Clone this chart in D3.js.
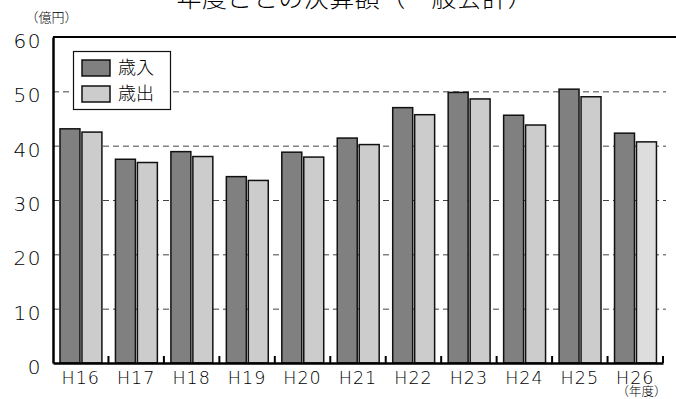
<!DOCTYPE html>
<html><head><meta charset="utf-8">
<script src="https://cdn.jsdelivr.net/npm/d3@7"></script>
<style>
html,body{margin:0;padding:0;background:#fff;}
svg{display:block;font-family:"Noto Sans CJK JP","Noto Sans",sans-serif;}
</style></head>
<body>
<svg id="c" width="676" height="399"></svg>
<script>
const categories = ["H16","H17","H18","H19","H20","H21","H22","H23","H24","H25","H26"];
const revenue = [43.1,37.5,38.9,34.3,38.8,41.4,47.0,49.8,45.6,50.4,42.3];
const expenditure = [42.5,36.9,38.0,33.6,37.9,40.2,45.7,48.6,43.8,49.0,40.7];
const seriesNames = ["歳入","歳出"];
const yTicks = [0,10,20,30,40,50,60];
const title = "年度ごとの決算額（一般会計）";
const yUnit = "（億円）";
const xUnit = "（年度）";

const svg = d3.select("#c");
const pL = 53, pR = 663, pT = 37, pB = 363;
const x = d3.scaleBand().domain(categories).range([pL, pR]).paddingInner(0).paddingOuter(0);
const y = d3.scaleLinear().domain([0,60]).range([pB, pT]);
const bw = x.bandwidth();
const barW = bw*0.36, gap = bw*0.036, offs = bw*0.126;
const colors = ["#808080","#cccccc"];

// title
svg.append("text").attr("x", 355).attr("y", 7).attr("text-anchor","middle")
  .attr("font-size", 25).attr("font-weight",300).attr("fill","#000")
  .attr("letter-spacing", 0.5).text(title);

// gridlines
svg.append("g").selectAll("line").data(yTicks.filter(d=>d>0 && d<60)).join("line")
  .attr("x1", pL).attr("x2", 666).attr("y1", d=>y(d)+0.5).attr("y2", d=>y(d)+0.5)
  .attr("stroke","#444").attr("stroke-width",1).attr("stroke-dasharray","6,4");

// bars
const series = [revenue, expenditure];
series.forEach((vals, si) => {
  svg.append("g").selectAll("rect").data(vals).join("rect")
    .attr("x", (d,i)=>x(categories[i]) + offs + si*(barW+gap))
    .attr("y", d=>y(d))
    .attr("width", barW)
    .attr("height", d=>pB - y(d))
    .attr("fill", (d,i)=> (si===1 && i===vals.length-1) ? "#dddddd" : colors[si])
    .attr("stroke","#111").attr("stroke-width",1.5);
});

// top border line
svg.append("line").attr("x1", pL).attr("x2", 676).attr("y1", pT).attr("y2", pT)
  .attr("stroke","#000").attr("stroke-width",2);

// y axis
const yAxis = d3.axisLeft(y).tickValues(yTicks).tickSize(0).tickPadding(11);
const gy = svg.append("g").attr("transform",`translate(${pL},0)`).call(yAxis);
gy.select(".domain").attr("stroke","#000").attr("stroke-width",2.5);
gy.selectAll("text").attr("font-size",20).attr("fill","#000").attr("font-weight",200)
  .attr("font-family","'DejaVu Sans',sans-serif").attr("dy","0.52em")
  .attr("letter-spacing", 1.5);

// x axis
const gx = svg.append("g").attr("transform",`translate(0,${pB})`)
  .call(d3.axisBottom(x).tickSize(0).tickPadding(8.5));
gx.select(".domain").attr("stroke","#000").attr("stroke-width",2.5);
gx.selectAll(".tick text").attr("font-size",17.5).attr("fill","#000").attr("font-weight",200)
  .attr("font-family","'DejaVu Sans',sans-serif").attr("letter-spacing", 1);
// small upward boundary ticks
svg.append("g").selectAll("line").data(categories).join("line")
  .attr("x1", d=>x(d)+bw).attr("x2", d=>x(d)+bw)
  .attr("y1", pB).attr("y2", pB-7)
  .attr("stroke","#000").attr("stroke-width",2);

// units
svg.append("text").attr("x", 51.5).attr("y", 22).attr("text-anchor","middle")
  .attr("font-size", 13).attr("font-weight",300).attr("fill","#000").text(yUnit);
svg.append("text").attr("x", 641.5).attr("y", 396).attr("text-anchor","middle")
  .attr("font-size", 12.5).attr("font-weight",300).attr("fill","#000").text(xUnit);

// legend
const lg = svg.append("g");
lg.append("rect").attr("x",73.5).attr("y",51.5).attr("width",97).attr("height",58)
  .attr("fill","#fff").attr("stroke","#111").attr("stroke-width",1.2);
seriesNames.forEach((n,i)=>{
  lg.append("rect").attr("x",82).attr("y",60+i*26).attr("width",28).attr("height",16)
    .attr("fill",colors[i]).attr("stroke","#111").attr("stroke-width",1.5);
  lg.append("text").attr("x",118).attr("y",68+i*26).attr("dy","0.36em")
    .attr("font-size",18).attr("font-weight",300).attr("fill","#000").text(n);
});
</script>
</body></html>
